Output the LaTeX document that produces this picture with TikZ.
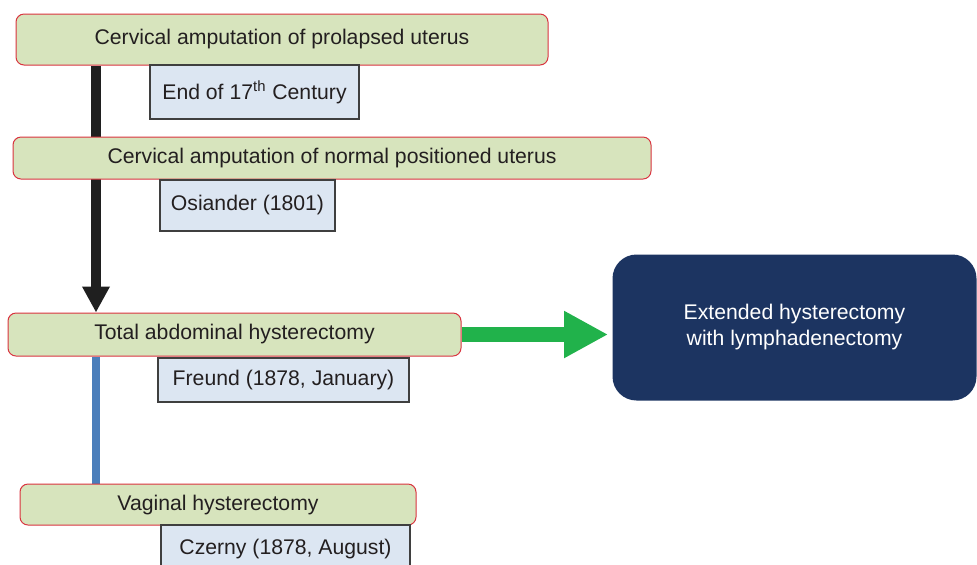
\documentclass[tikz,border=0pt]{standalone}
\usepackage{fontspec}
\setmainfont{Liberation Sans}
\usetikzlibrary{arrows.meta}

\pgfdeclarelayer{background}
\pgfsetlayers{background,main}

\definecolor{boxgreen}{HTML}{D7E4BD}
\definecolor{boxred}{HTML}{D9333F}
\definecolor{datefill}{HTML}{DCE6F2}
\definecolor{dateline}{HTML}{3F3F3F}
\definecolor{navy}{HTML}{1C3461}
\definecolor{arrowgreen}{HTML}{21B24B}
\definecolor{lineblue}{HTML}{4A7EBB}
\definecolor{textgray}{HTML}{231F20}

\tikzset{
  stage/.style={draw=boxred, fill=boxgreen, rounded corners=4pt, line width=0.5pt, text=textgray, inner sep=0pt},
  datebox/.style={draw=dateline, fill=datefill, line width=0.6pt, text=textgray, inner sep=0pt},
}

\begin{document}
\begin{tikzpicture}[x=0.5pt, y=-0.5pt, font=\fontsize{10.6}{13}\selectfont]
    \useasboundingbox (0,0) rectangle (977,564);

    % --- Stufen (links) ---
    \node[stage, minimum width=266pt, minimum height=25.5pt] (prolapsed) at (282,39.5) {Cervical amputation of prolapsed uterus};
    \node[datebox, minimum width=104.5pt, minimum height=27pt] (end17) at (254.5,92) {End of 17\textsuperscript{th} Century};

    \node[stage, minimum width=319pt, minimum height=21pt] (normal) at (332,158) {Cervical amputation of normal positioned uterus};
    \node[datebox, minimum width=87.5pt, minimum height=25.5pt] (osiander) at (247.5,205.5) {Osiander (1801)};

    \node[stage, minimum width=226.5pt, minimum height=21.5pt] (abdominal) at (234.5,334.5) {Total abdominal hysterectomy};
    \node[datebox, minimum width=125.5pt, minimum height=22pt] (freund) at (283.5,380) {Freund (1878, January)};

    \node[stage, minimum width=198pt, minimum height=20.5pt] (vaginal) at (218,504.5) {Vaginal hysterectomy};
    \node[datebox, minimum width=124.5pt, minimum height=24pt] (czerny) at (285.5,549) {Czerny (1878, August)};

    % --- Erweiterung (rechts) ---
    \node[fill=navy, rounded corners=12pt, minimum width=182pt, minimum height=73pt, text=white, align=center] (extended) at (794.5,327.5) {Extended hysterectomy\\with lymphadenectomy};

    % --- Verbindungen ---
    \coordinate (trunk) at (96,0);
    \begin{pgfonlayer}{background}
        \draw[line width=5pt, black!88, -{Triangle[width=13pt,length=13pt]}] (prolapsed.south -| trunk) -- (abdominal.north -| trunk);
        \draw[line width=4pt, lineblue] (abdominal.south -| trunk) -- (vaginal.north -| trunk);
    \end{pgfonlayer}
    \draw[line width=7.5pt, arrowgreen, -{Triangle[width=22pt,length=22pt]}, shorten >=2pt] (abdominal.east) -- (abdominal.east -| extended.west);
\end{tikzpicture}
\end{document}
